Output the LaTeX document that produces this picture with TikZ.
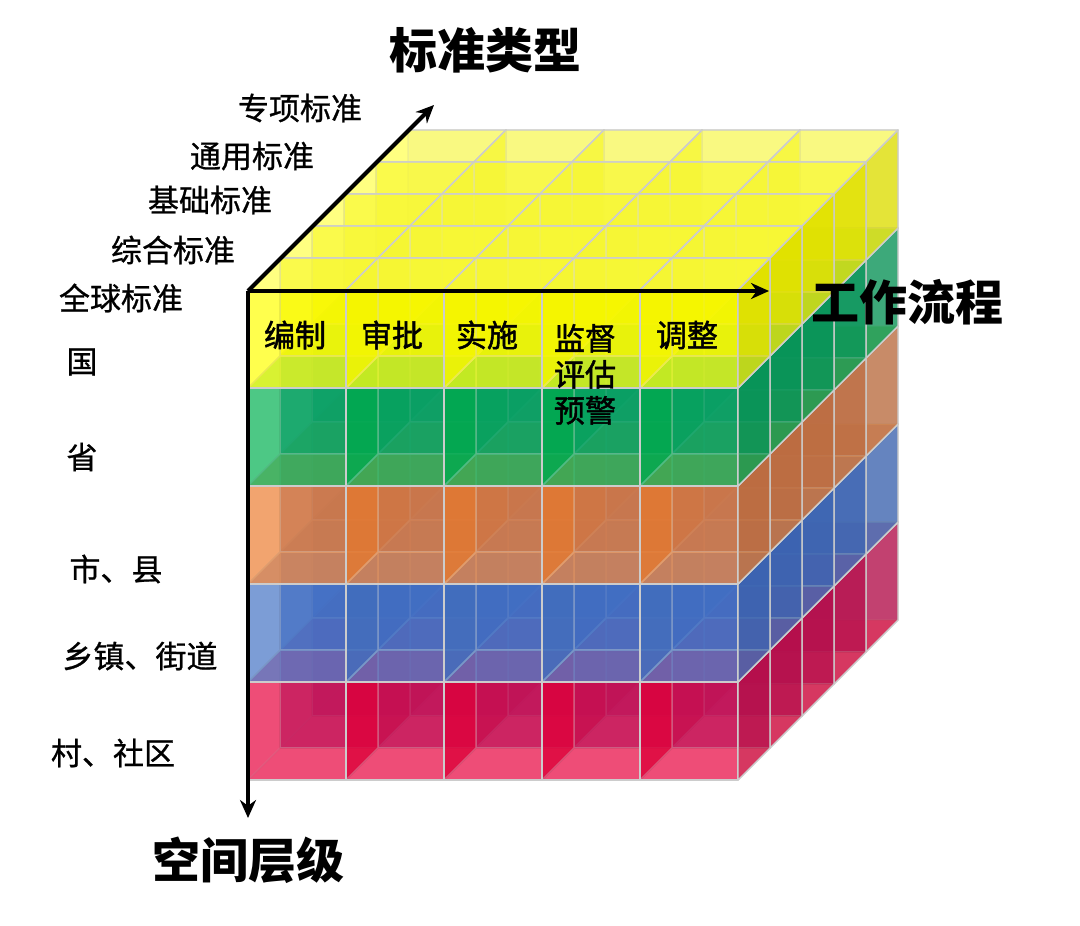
\documentclass[tikz,border=0pt]{standalone}
\usepackage{fontspec}
\setmainfont{Noto Sans CJK SC}
\newfontfamily\sidefont[FakeBold=0.8]{Noto Sans CJK SC}
\newfontfamily\cellfont[FakeBold=1.5]{Noto Sans CJK SC}
\usetikzlibrary{arrows.meta}

\definecolor{lyellow}{RGB}{255,255,0}
\definecolor{lgreen}{RGB}{0,176,80}
\definecolor{lorange}{RGB}{237,125,49}
\definecolor{lblue}{RGB}{68,114,196}
\definecolor{lred}{RGB}{230,0,60}
\definecolor{tint}{RGB}{50,90,195}
\colorlet{kyellow}{lyellow!92!black}
\colorlet{kgreen}{lgreen!45!tint}
\colorlet{korange}{lorange!45!tint}
\colorlet{kblue}{lblue!50!tint}
\colorlet{kred}{lred!38!tint}

\tikzset{
  face/.style={fill opacity=0.45, draw=gray!40, line width=0.7pt, line join=round},
  inner/.style={face, draw opacity=0.35},
  sideface/.style={face, fill opacity=0.6},
  axis/.style={line width=2pt, -{Stealth[length=9pt,width=8pt]}},
  side/.style={font=\sidefont\fontsize{15.5}{19}\selectfont},
  cell/.style={font=\cellfont\fontsize{15.5}{19}\selectfont, align=center},
  title/.style={font=\bfseries\fontsize{24}{28}\selectfont}
}

\begin{document}
\begin{tikzpicture}[x=0.5pt,y=-0.5pt]
	\useasboundingbox (0,0) rectangle (1080,925);
	
	% cubes, from the back to the front
	\foreach \d in {4,...,0}{
		\foreach \l/\base/\back in {4/lred/kred,3/lblue/kblue,2/lorange/korange,1/lgreen/kgreen,0/lyellow/kyellow}{
			\foreach \c in {0,...,4}{
				\pgfmathsetmacro\x{248+98*\c+32*\d}
				\pgfmathsetmacro\y{290+98*\l-32*\d}
				\begin{scope}[shift={(\x,\y)}]
					\filldraw[inner, fill=\back] (32,-32) rectangle (130,66);
					\filldraw[inner, fill=\base] (0,0) -- (32,-32) -- (32,66) -- (0,98) -- cycle;
					\filldraw[inner, fill=\base] (0,98) -- (32,66) -- (130,66) -- (98,98) -- cycle;
					\filldraw[face, fill=\base] (0,0) rectangle (98,98);
					\filldraw[face, fill=\base!55!white] (0,0) -- (32,-32) -- (130,-32) -- (98,0) -- cycle;
					\filldraw[sideface, fill=\base!85!black] (98,0) -- (130,-32) -- (130,66) -- (98,98) -- cycle;
				\end{scope}
			}
		}
	}
	
	% axes
	\coordinate (O) at (248,291);
	\coordinate (flow) at (769,291);
	\coordinate (space) at (248,818);
	\coordinate (type) at (434,105);
	\draw[axis] (O) -- (flow);
	\draw[axis] (O) -- (space);
	\draw[axis] (O) -- (type);
	
	% titles
	\node[title] (tType) at (485,50) {标准类型};
	\node[title] (tFlow) at (907,302) {工作流程};
	\node[title] (tSpace) at (248,860) {空间层级};
	
	% standard types
	\node[side] (s5) at (300,108) {专项标准};
	\node[side] (s4) at (252,156) {通用标准};
	\node[side] (s3) at (210,200) {基础标准};
	\node[side] (s2) at (173,250) {综合标准};
	\node[side] (s1) at (121,298) {全球标准};
	
	% levels
	\node[side] (l1) at (82,362) {国};
	\node[side] (l2) at (82,457) {省};
	\node[side] (l3) at (116,569) {市、县};
	\node[side] (l4) at (140,656) {乡镇、街道};
	\node[side] (l5) at (113,753) {村、社区};
	
	% work flow
	\node[cell] (w1) at (295,335) {编制};
	\node[cell] (w2) at (392,335) {审批};
	\node[cell] (w3) at (487,335) {实施};
	\node[cell, anchor=north] (w4) at (585,317) {监督\\[-1pt]评估\\[-1pt]预警};
	\node[cell] (w5) at (687,335) {调整};
\end{tikzpicture}
\end{document}
